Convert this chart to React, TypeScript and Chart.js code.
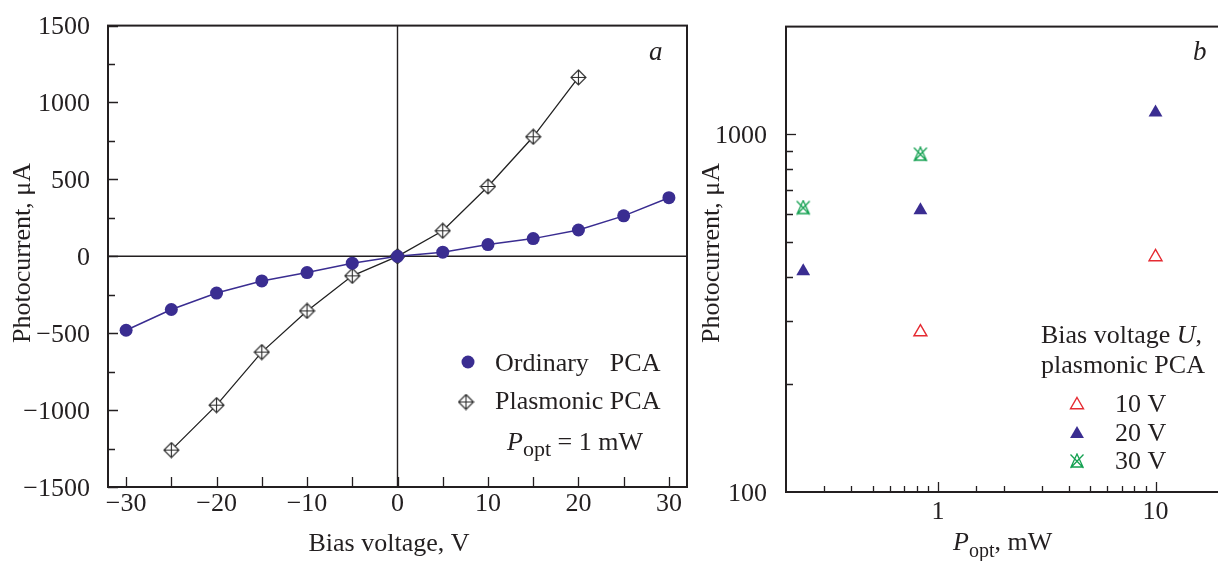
import React, { useEffect, useRef } from 'react';
import { Chart, registerables } from 'chart.js';

Chart.register(...registerables);

// ---------- Panel a data ----------
const biasVoltage = [-30, -25, -20, -15, -10, -5, 0, 5, 10, 15, 20, 25, 30];
const ordinaryPCA = [-481, -346, -239, -160, -106, -45, 0, 27, 76, 115, 171, 263, 381];
const plasmonicVoltage = [-25, -20, -15, -10, -5, 0, 5, 10, 15, 20];
const plasmonicPCA = [-1260, -968, -623, -355, -127, 0, 166, 454, 777, 1163];
const voltageTickLabels = [-30, -20, -10, 0, 10, 20, 30];

// ---------- Panel b data ----------
const power10V = [0.83, 10];
const current10V = [280, 454];
const power20V = [0.24, 0.83, 10];
const current20V = [414, 613, 1150];
const power30V = [0.24, 0.83];
const current30V = [624, 880];
const legendLabelsB = ['10 V', '20 V', '30 V'];

const SERIF = '"Liberation Serif", "Times New Roman", serif';
const INK = '#231f20';
const BLUE = '#3a2d91';
const RED = '#e52b32';
const GREEN = '#15a152';

const fmt = (v: number) => (v < 0 ? '\u2212' + Math.abs(v) : String(v));

function makeDiamondCross(): HTMLCanvasElement {
  const size = 17;
  const c = document.createElement('canvas');
  c.width = size;
  c.height = size;
  const g = c.getContext('2d')!;
  const m = size / 2;
  const r = m - 1;
  g.fillStyle = '#ffffff';
  g.strokeStyle = '#2a2a2a';
  g.lineWidth = 1.1;
  g.beginPath();
  g.moveTo(m, m - r);
  g.lineTo(m + r, m);
  g.lineTo(m, m + r);
  g.lineTo(m - r, m);
  g.closePath();
  g.fill();
  g.stroke();
  g.beginPath();
  g.moveTo(m, m - r);
  g.lineTo(m, m + r);
  g.moveTo(m - r, m);
  g.lineTo(m + r, m);
  g.stroke();
  return c;
}

function makeTriCross(): HTMLCanvasElement {
  const w = 16;
  const h = 16;
  const c = document.createElement('canvas');
  c.width = w;
  c.height = h;
  const g = c.getContext('2d')!;
  g.strokeStyle = GREEN;
  g.lineWidth = 1.3;
  g.beginPath();
  g.moveTo(w / 2, 1);
  g.lineTo(w - 2, h - 2);
  g.lineTo(2, h - 2);
  g.closePath();
  g.moveTo(1.5, 1.5);
  g.lineTo(w - 1.5, h - 1);
  g.moveTo(w - 1.5, 1.5);
  g.lineTo(1.5, h - 1);
  g.stroke();
  return c;
}

function drawTicksY(ctx: CanvasRenderingContext2D, scale: any, left: number, values: number[], len: number) {
  ctx.beginPath();
  values.forEach((v) => {
    const p = Math.round(scale.getPixelForValue(v)) + 0.5;
    ctx.moveTo(left, p);
    ctx.lineTo(left + len, p);
  });
  ctx.stroke();
}
function drawTicksX(ctx: CanvasRenderingContext2D, scale: any, bottom: number, values: number[], len: number) {
  ctx.beginPath();
  values.forEach((v) => {
    const p = Math.round(scale.getPixelForValue(v)) + 0.5;
    ctx.moveTo(p, bottom);
    ctx.lineTo(p, bottom - len);
  });
  ctx.stroke();
}

function drawSeq(ctx: CanvasRenderingContext2D, parts: [string, string, number][], x: number, y: number) {
  let cx = x;
  ctx.textAlign = 'left';
  ctx.textBaseline = 'alphabetic';
  parts.forEach(([s, font, dy]) => {
    ctx.font = font;
    ctx.fillText(s, cx, y + dy);
    cx += ctx.measureText(s).width;
  });
}

function ChartA() {
  const ref = useRef<HTMLCanvasElement>(null);
  useEffect(() => {
    const diamond = makeDiamondCross();
    const plugin = {
      id: 'decorA',
      beforeDatasetsDraw(chart: any) {
        const { ctx, chartArea: a, scales } = chart;
        const x0 = scales.x.getPixelForValue(0);
        const y0 = scales.y.getPixelForValue(0);
        ctx.save();
        ctx.strokeStyle = INK;
        ctx.lineWidth = 1.4;
        ctx.beginPath();
        ctx.moveTo(x0, a.top);
        ctx.lineTo(x0, a.bottom);
        ctx.moveTo(a.left, y0);
        ctx.lineTo(a.right, y0);
        ctx.stroke();
        ctx.restore();
      },
      afterDraw(chart: any) {
        const { ctx, chartArea: a, scales } = chart;
        ctx.save();
        ctx.strokeStyle = INK;
        ctx.fillStyle = INK;
        ctx.lineWidth = 1.3;
        const yMajor: number[] = [];
        const yMinor: number[] = [];
        for (let v = -1500; v <= 1500; v += 250) (v % 500 === 0 ? yMajor : yMinor).push(v);
        drawTicksY(ctx, scales.y, a.left, yMajor, 10);
        drawTicksY(ctx, scales.y, a.left, yMinor, 7);
        const xT: number[] = [];
        for (let v = -30; v <= 30; v += 5) xT.push(v);
        drawTicksX(ctx, scales.x, a.bottom, xT, 10);
        ctx.lineWidth = 2;
        ctx.strokeRect(a.left, a.top, a.right - a.left, a.bottom - a.top);
        ctx.font = `26px ${SERIF}`;
        ctx.textAlign = 'center';
        ctx.textBaseline = 'middle';
        ctx.save();
        ctx.translate(23, 253);
        ctx.rotate(-Math.PI / 2);
        ctx.fillText('Photocurrent, \u03BCA', 0, 0);
        ctx.restore();
        ctx.textBaseline = 'alphabetic';
        ctx.fillText('Bias voltage, V', 389, 551);
        ctx.font = `italic 27px ${SERIF}`;
        ctx.textAlign = 'left';
        ctx.fillText('a', 649, 60);
        // legend
        ctx.fillStyle = BLUE;
        ctx.beginPath();
        ctx.arc(468, 362, 6.5, 0, Math.PI * 2);
        ctx.fill();
        ctx.drawImage(diamond, 466 - diamond.width / 2, 402 - diamond.height / 2);
        ctx.fillStyle = INK;
        ctx.font = `26px ${SERIF}`;
        ctx.textAlign = 'left';
        ctx.fillText('Plasmonic PCA', 495, 409);
        const endX = 495 + ctx.measureText('Plasmonic PCA').width;
        ctx.fillText('Ordinary', 495, 371);
        ctx.textAlign = 'right';
        ctx.fillText('PCA', endX, 371);
        drawSeq(
          ctx,
          [
            ['P', `italic 26px ${SERIF}`, 0],
            ['opt', `22px ${SERIF}`, 6],
            [' = 1 mW', `26px ${SERIF}`, 0],
          ],
          507,
          450
        );
        ctx.restore();
      },
    };

    const chart = new Chart(ref.current!, {
      type: 'line',
      data: {
        datasets: [
          {
            label: 'Ordinary PCA',
            data: biasVoltage.map((v, i) => ({ x: v, y: ordinaryPCA[i] })),
            borderColor: BLUE,
            backgroundColor: BLUE,
            borderWidth: 1.5,
            pointRadius: 6.5,
            pointStyle: 'circle',
            pointBorderWidth: 0,
          },
          {
            label: 'Plasmonic PCA',
            data: plasmonicVoltage.map((v, i) => ({ x: v, y: plasmonicPCA[i] })),
            borderColor: '#222222',
            backgroundColor: '#ffffff',
            borderWidth: 1.3,
            pointStyle: diamond as any,
            pointRadius: 8,
          },
        ],
      },
      options: {
        animation: false,
        responsive: true,
        maintainAspectRatio: false,
        events: [],
        layout: { padding: { top: 20, left: 0, right: 13, bottom: 0 } },
        plugins: { legend: { display: false }, tooltip: { enabled: false } },
        scales: {
          x: {
            type: 'linear',
            min: -32,
            max: 32,
            grid: { display: false },
            border: { display: false },
            afterFit: (s: any) => {
              s.height = 74;
            },
            ticks: {
              includeBounds: false,
              stepSize: 10,
              autoSkip: false,
              maxRotation: 0,
              padding: -6,
              color: INK,
              font: { family: SERIF, size: 26 },
              callback: (v: any) => (voltageTickLabels.includes(Number(v)) ? fmt(Number(v)) : ''),
            },
          },
          y: {
            type: 'linear',
            min: -1500,
            max: 1500,
            grid: { display: false },
            border: { display: false },
            afterFit: (s: any) => {
              s.width = 108;
            },
            ticks: {
              stepSize: 500,
              padding: 10,
              labelOffset: 2,
              color: INK,
              font: { family: SERIF, size: 26 },
              callback: (v: any) => fmt(Number(v)),
            },
          },
        },
      },
      plugins: [plugin],
    } as any);
    return () => chart.destroy();
  }, []);
  return (
    <div style={{ position: 'absolute', left: 0, top: 0, width: 700, height: 561 }}>
      <canvas ref={ref} />
    </div>
  );
}

function ChartB() {
  const ref = useRef<HTMLCanvasElement>(null);
  useEffect(() => {
    const triCross = makeTriCross();
    const plugin = {
      id: 'decorB',
      afterDraw(chart: any) {
        const { ctx, chartArea: a, scales } = chart;
        ctx.save();
        ctx.strokeStyle = INK;
        ctx.fillStyle = INK;
        ctx.lineWidth = 1.3;
        const yVals: number[] = scales.y.ticks.map((t: any) => t.value);
        drawTicksY(ctx, scales.y, a.left, yVals.filter((v) => v === 1000), 10);
        drawTicksY(ctx, scales.y, a.left, yVals.filter((v) => v !== 1000 && v > 100 && v < 1000), 7);
        const xVals: number[] = scales.x.ticks.map((t: any) => t.value);
        drawTicksX(ctx, scales.x, a.bottom, xVals.filter((v) => v === 1 || v === 10), 10);
        drawTicksX(ctx, scales.x, a.bottom, xVals.filter((v) => v !== 1 && v > 0.2 && v < 10), 6);
        ctx.lineWidth = 2;
        ctx.strokeRect(a.left, a.top, a.right - a.left, a.bottom - a.top);
        ctx.font = `26px ${SERIF}`;
        ctx.textAlign = 'center';
        ctx.textBaseline = 'middle';
        ctx.save();
        ctx.translate(22, 253);
        ctx.rotate(-Math.PI / 2);
        ctx.fillText('Photocurrent, \u03BCA', 0, 0);
        ctx.restore();
        drawSeq(
          ctx,
          [
            ['P', `italic 26px ${SERIF}`, 0],
            ['opt', `20px ${SERIF}`, 7],
            [', mW', `26px ${SERIF}`, 0],
          ],
          263,
          550
        );
        ctx.font = `italic 27px ${SERIF}`;
        ctx.textAlign = 'left';
        ctx.fillText('b', 503, 60);
        // legend
        drawSeq(
          ctx,
          [
            ['Bias voltage ', `26px ${SERIF}`, 0],
            ['U', `italic 26px ${SERIF}`, 0],
            [',', `26px ${SERIF}`, 0],
          ],
          351,
          343
        );
        drawSeq(ctx, [['plasmonic PCA', `26px ${SERIF}`, 0]], 351, 373);
        ctx.font = `26px ${SERIF}`;
        ctx.textAlign = 'left';
        const ys = [412, 441, 469];
        legendLabelsB.forEach((s, i) => ctx.fillText(s, 425, ys[i]));
        const mx = 387;
        const tri = (cy: number, r: number) => {
          ctx.beginPath();
          ctx.moveTo(mx, cy - r);
          ctx.lineTo(mx + r * Math.cos(Math.PI / 6), cy + r / 2);
          ctx.lineTo(mx - r * Math.cos(Math.PI / 6), cy + r / 2);
          ctx.closePath();
        };
        ctx.lineWidth = 1.4;
        ctx.strokeStyle = RED;
        tri(405, 7.5);
        ctx.stroke();
        ctx.fillStyle = BLUE;
        tri(434, 8);
        ctx.fill();
        ctx.drawImage(triCross, mx - triCross.width / 2, 461 - triCross.height / 2);
        ctx.restore();
      },
    };

    const chart = new Chart(ref.current!, {
      type: 'scatter',
      data: {
        datasets: [
          {
            label: '10 V',
            data: power10V.map((p, i) => ({ x: p, y: current10V[i] })),
            pointStyle: 'triangle',
            pointRadius: 7.5,
            borderColor: RED,
            backgroundColor: '#ffffff',
            borderWidth: 1.4,
          },
          {
            label: '20 V',
            data: power20V.map((p, i) => ({ x: p, y: current20V[i] })),
            pointStyle: 'triangle',
            pointRadius: 8,
            borderColor: BLUE,
            backgroundColor: BLUE,
            borderWidth: 0,
          },
          {
            label: '30 V',
            data: power30V.map((p, i) => ({ x: p, y: current30V[i] })),
            pointStyle: triCross as any,
            pointRadius: 8,
            borderColor: GREEN,
            backgroundColor: GREEN,
          },
        ],
      },
      options: {
        animation: false,
        responsive: true,
        maintainAspectRatio: false,
        events: [],
        layout: { padding: { top: 20, left: 0, right: 6, bottom: 0 } },
        plugins: { legend: { display: false }, tooltip: { enabled: false } },
        scales: {
          x: {
            type: 'logarithmic',
            min: 0.2,
            max: 20,
            grid: { display: false },
            border: { display: false },
            afterFit: (s: any) => {
              s.height = 69;
            },
            ticks: {
              autoSkip: false,
              maxRotation: 0,
              padding: -3,
              color: INK,
              font: { family: SERIF, size: 26 },
              callback: (v: any) => (Number(v) === 1 || Number(v) === 10 ? String(v) : ''),
            },
          },
          y: {
            type: 'logarithmic',
            min: 100,
            max: 2000,
            grid: { display: false },
            border: { display: false },
            afterFit: (s: any) => {
              s.width = 96;
            },
            ticks: {
              autoSkip: false,
              padding: 11,
              labelOffset: 2,
              color: INK,
              font: { family: SERIF, size: 26 },
              callback: (v: any) => (Number(v) === 100 || Number(v) === 1000 ? String(v) : ''),
            },
          },
        },
      },
      plugins: [plugin],
    } as any);
    return () => chart.destroy();
  }, []);
  return (
    <div style={{ position: 'absolute', left: 690, top: 0, width: 540, height: 561 }}>
      <canvas ref={ref} />
    </div>
  );
}

export default function App() {
  return (
    <div
      style={{
        position: 'fixed',
        left: 0,
        top: 0,
        width: 1218,
        height: 561,
        overflow: 'hidden',
        background: '#ffffff',
      }}
    >
      <ChartA />
      <ChartB />
    </div>
  );
}
